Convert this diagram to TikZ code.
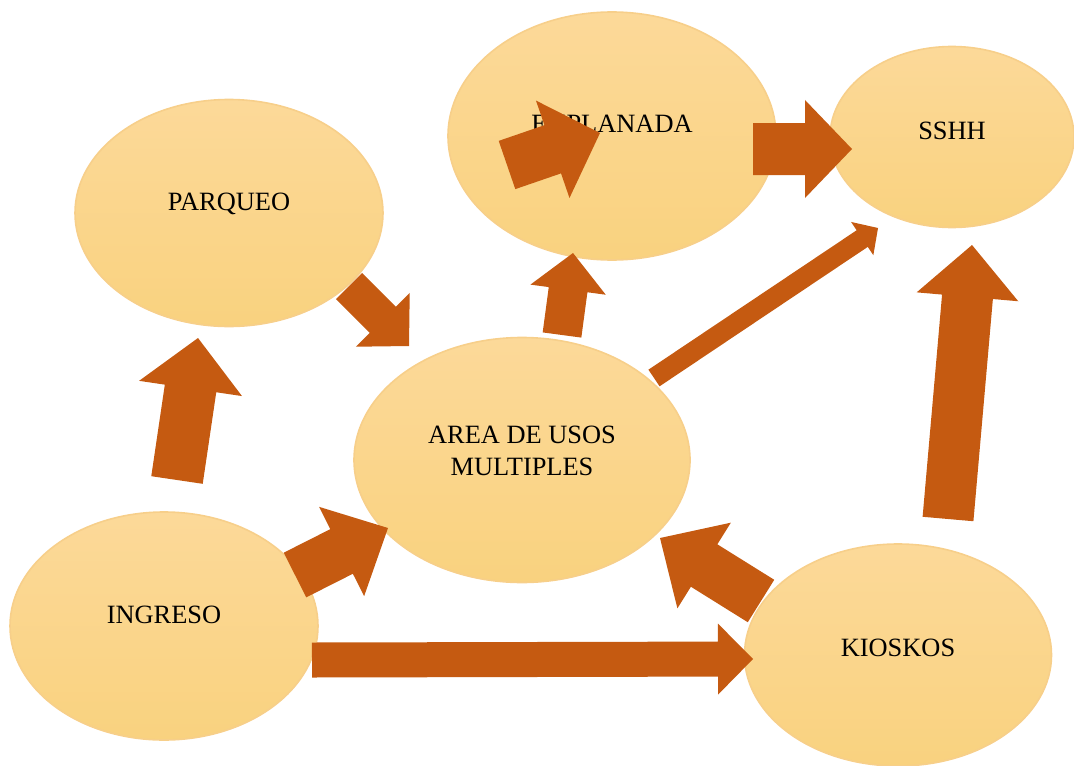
\documentclass[tikz,border=0pt]{standalone}
\usepackage{fontspec}
\setmainfont{Liberation Serif}
\usetikzlibrary{calc, shapes.geometric}

\definecolor{zonetop}{HTML}{FCD999}
\definecolor{zonebottom}{HTML}{F9D27F}
\definecolor{zoneedge}{HTML}{F7CF8A}
\definecolor{flow}{HTML}{C55A11}

\begin{document}
\begin{tikzpicture}[
  x=0.5pt, y=-0.5pt,
  zone/.style={ellipse, draw=zoneedge, line width=0.8pt, top color=zonetop, bottom color=zonebottom,
    font=\fontsize{13.2}{16}\selectfont, align=center, text height=9pt, text depth=12pt},
  flowarrow/.style n args={3}{fill=flow, to path={
    ($(\tikztostart)!#1!90:(\tikztotarget)$)
    -- ($(\tikztotarget)!#3!(\tikztostart)!#1!-90:(\tikztostart)$)
    -- ($(\tikztotarget)!#3!(\tikztostart)!#2!-90:(\tikztostart)$)
    -- (\tikztotarget)
    -- ($(\tikztotarget)!#3!(\tikztostart)!#2!90:(\tikztostart)$)
    -- ($(\tikztotarget)!#3!(\tikztostart)!#1!90:(\tikztostart)$)
    -- ($(\tikztostart)!#1!-90:(\tikztotarget)$) -- cycle}}
]
\useasboundingbox (0,0) rectangle (1074,765);

\node[zone, minimum width=154pt, minimum height=113.5pt] (parqueo) at (229,213) {PARQUEO};
\node[zone, minimum width=164pt, minimum height=124pt] (explanada) at (612,136) {EXPLANADA};
\node[zone, minimum width=122pt, minimum height=90.5pt, text depth=7pt] (sshh) at (952,137) {SSHH};
\node[zone, minimum width=168pt, minimum height=122.5pt, text height=20.5pt, text depth=5.3pt] (area) at (522,460) {AREA DE USOS\\MULTIPLES};
\node[zone, minimum width=154pt, minimum height=114pt] (ingreso) at (164,626) {INGRESO};
\node[zone, minimum width=153.5pt, minimum height=111pt, text depth=8pt] (kioskos) at (898,655) {KIOSKOS};

\coordinate (ing-n) at (177,480);
\coordinate (par-s) at (198,338);
\coordinate (par-se) at (349,286);
\coordinate (area-nw) at (409,346);
\coordinate (area-n) at (562,335);
\coordinate (expl-s) at (573,253);
\coordinate (expl-w) at (507,165);
\coordinate (expl-c) at (600,133);
\coordinate (expl-e) at (753,149);
\coordinate (sshh-w) at (852,149);
\coordinate (area-ne) at (654,378);
\coordinate (sshh-sw) at (878,228);
\coordinate (kio-n) at (948,519);
\coordinate (sshh-s) at (972,245);
\coordinate (kio-nw) at (761,601);
\coordinate (area-se) at (660,538);
\coordinate (ing-ne) at (295,575);
\coordinate (area-sw) at (388,528);
\coordinate (ing-e) at (312,660);
\coordinate (kio-w) at (753,659);

\fill[flowarrow={13pt}{26pt}{25.5pt}] (ing-n) to (par-s);
\fill[flowarrow={9.25pt}{19pt}{18.5pt}] (par-se) to (area-nw);
\fill[flowarrow={9.75pt}{19pt}{18.5pt}] (area-n) to (expl-s);
\fill[flowarrow={12.75pt}{25.75pt}{25pt}] (expl-w) to (expl-c);
\fill[flowarrow={13pt}{24.5pt}{23.5pt}] (expl-e) to (sshh-w);
\fill[flowarrow={5pt}{10pt}{9.5pt}] (area-ne) to (sshh-sw);
\fill[flowarrow={12.75pt}{25.5pt}{26pt}] (kio-n) to (sshh-s);
\fill[flowarrow={12.5pt}{25.25pt}{26pt}] (kio-nw) to (area-se);
\fill[flowarrow={12.5pt}{25pt}{26pt}] (ing-ne) to (area-sw);
\fill[flowarrow={8.75pt}{17.75pt}{17.5pt}] (ing-e) to (kio-w);

\end{tikzpicture}
\end{document}
